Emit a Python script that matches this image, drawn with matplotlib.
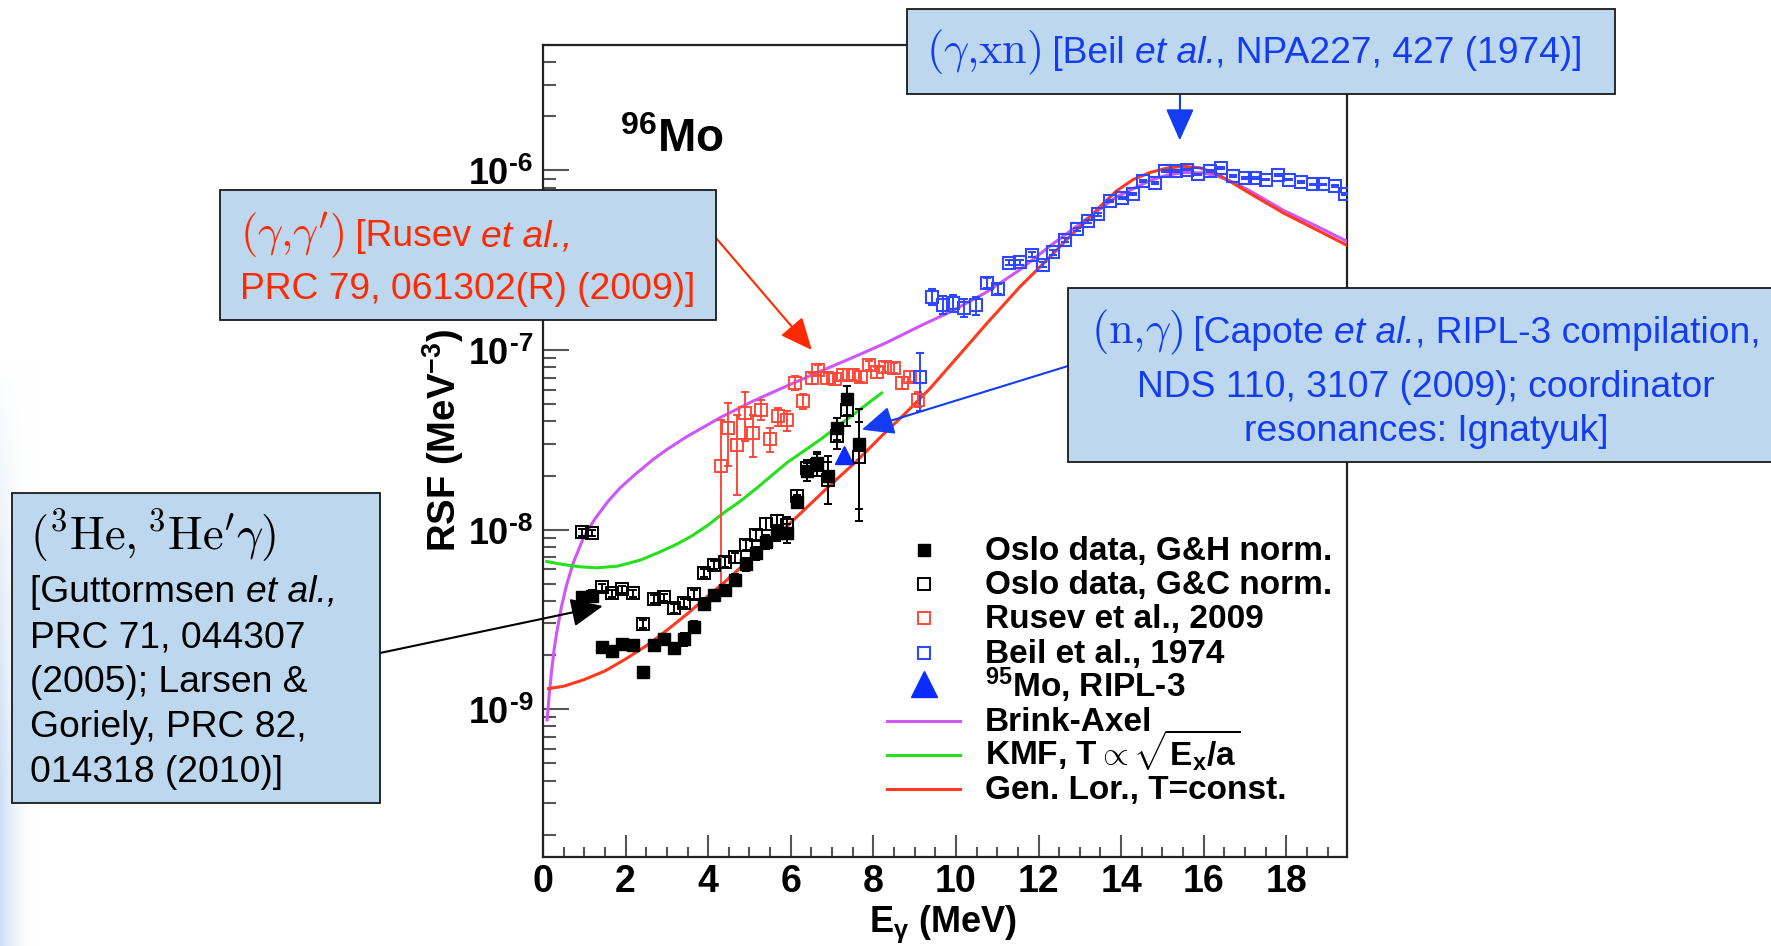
import numpy as np
import matplotlib
matplotlib.use("Agg")
import matplotlib.pyplot as plt
from matplotlib.patches import Rectangle
from matplotlib.lines import Line2D
from matplotlib.ticker import LogLocator, MultipleLocator, NullFormatter

plt.rcParams['font.family'] = ['Liberation Sans', 'DejaVu Sans']
plt.rcParams['font.weight'] = 'bold'
plt.rcParams['mathtext.fontset'] = 'custom'
plt.rcParams['mathtext.rm'] = 'Liberation Sans:bold'
plt.rcParams['mathtext.bf'] = 'Liberation Sans:bold'
plt.rcParams['mathtext.it'] = 'Liberation Sans:italic:bold'
plt.rcParams['mathtext.sf'] = 'Liberation Sans:bold'

# ---------------- data ----------------
# Oslo method (3He,3He'g), two normalisations
E_oslo = [0.94, 1.18, 1.42, 1.67, 1.92, 2.18, 2.43, 2.68, 2.93, 3.17, 3.41, 3.66, 3.90, 4.15,
          4.40, 4.66, 4.91, 5.16, 5.41, 5.66, 5.90, 6.15, 6.39, 6.64, 6.90, 7.12, 7.37, 7.66]
rsf_gh = [4.2e-9, 4.28e-9, 2.21e-9, 2.11e-9, 2.31e-9, 2.28e-9, 1.60e-9, 2.28e-9, 2.45e-9, 2.18e-9,
          2.45e-9, 2.88e-9, 3.86e-9, 4.33e-9, 4.61e-9, 5.25e-9, 6.4e-9, 7.38e-9, 8.57e-9, 9.6e-9,
          9.6e-9, 1.43e-8, 2.11e-8, 2.34e-8, 1.98e-8, 3.67e-8, 5.33e-8, 3.0e-8]
err_gh = [0.3e-9, 0.3e-9, 0.15e-9, 0.15e-9, 0.15e-9, 0.15e-9, 0.1e-9, 0.15e-9, 0.15e-9, 0.15e-9,
          0.2e-9, 0.2e-9, 0.3e-9, 0.3e-9, 0.3e-9, 0.4e-9, 0.5e-9, 0.6e-9, 0.8e-9, 1.0e-9,
          1.2e-9, 1.2e-9, 2.5e-9, 3.5e-9, 6.0e-9, 5.0e-9, 1.0e-8, 1.7e-8]
rsf_gc = [9.66e-9, 9.55e-9, 4.77e-9, 4.41e-9, 4.66e-9, 4.41e-9, 2.98e-9, 4.1e-9, 4.2e-9, 3.65e-9,
          3.92e-9, 4.37e-9, 5.75e-9, 6.35e-9, 6.6e-9, 7.0e-9, 8.2e-9, 9.3e-9, 1.08e-8, 1.11e-8,
          1.06e-8, 1.53e-8, 2.2e-8, 2.3e-8, 1.89e-8, 3.3e-8, 4.65e-8, 2.55e-8]
err_gc = [0.4e-9, 0.4e-9, 0.2e-9, 0.2e-9, 0.2e-9, 0.2e-9, 0.15e-9, 0.2e-9, 0.2e-9, 0.2e-9,
          0.2e-9, 0.25e-9, 0.3e-9, 0.35e-9, 0.4e-9, 0.45e-9, 0.5e-9, 0.6e-9, 0.8e-9, 1.0e-9,
          1.1e-9, 1.3e-9, 2.5e-9, 3.2e-9, 5.0e-9, 5.0e-9, 9.0e-9, 1.44e-8]

# (g,g') Rusev et al. 2009
E_rusev = [4.30, 4.49, 4.69, 4.89, 5.09, 5.27, 5.50, 5.70, 5.90, 6.10, 6.30, 6.51, 6.67, 6.87,
           7.07, 7.27, 7.50, 7.69, 7.90, 8.08, 8.28, 8.50, 8.69, 8.89, 9.09]
rsf_rusev = [2.25e-8, 3.67e-8, 2.96e-8, 4.46e-8, 3.45e-8, 4.65e-8, 3.19e-8, 4.27e-8, 4.05e-8,
             6.56e-8, 5.18e-8, 6.98e-8, 7.78e-8, 6.98e-8, 6.9e-8, 7.3e-8, 7.3e-8, 7.1e-8, 8.2e-8,
             7.5e-8, 8.05e-8, 7.95e-8, 6.56e-8, 7.1e-8, 5.3e-8]
err_rusev = [1.8e-8, 1.4e-8, 1.4e-8, 1.35e-8, 0.9e-8, 0.6e-8, 0.5e-8, 0.5e-8, 0.5e-8, 0.6e-8,
             0.5e-8, 0.5e-8, 0.5e-8, 0.5e-8, 0.5e-8, 0.5e-8, 0.5e-8, 0.5e-8, 0.5e-8, 0.5e-8,
             0.5e-8, 0.5e-8, 0.5e-8, 0.5e-8, 0.5e-8]

# (g,xn) Beil et al. 1974
E_beil = [9.13, 9.41, 9.68, 9.93, 10.20, 10.48, 10.74, 11.03, 11.29, 11.55, 11.83, 12.11, 12.36,
          12.64, 12.92, 13.20, 13.45, 13.73, 14.01, 14.28, 14.54, 14.82, 15.06, 15.34, 15.60,
          15.87, 16.15, 16.43, 16.71, 17.00, 17.24, 17.52, 17.80, 18.07, 18.35, 18.64, 18.89,
          19.18, 19.42]
rsf_beil = [7.07e-8, 1.98e-7, 1.79e-7, 1.83e-7, 1.72e-7, 1.77e-7, 2.37e-7, 2.19e-7, 3.06e-7,
            3.08e-7, 3.4e-7, 2.99e-7, 3.5e-7, 4.1e-7, 4.7e-7, 5.2e-7, 5.69e-7, 6.75e-7, 7.05e-7,
            7.36e-7, 8.73e-7, 8.55e-7, 9.93e-7, 9.93e-7, 1.01e-6, 9.5e-7, 9.9e-7, 1.035e-6,
            9.3e-7, 9.12e-7, 9.12e-7, 8.9e-7, 9.4e-7, 8.9e-7, 8.6e-7, 8.36e-7, 8.36e-7, 8.2e-7,
            7.36e-7]
err_beil = [2.5e-8, 2.0e-8, 2.0e-8, 2.0e-8, 2.0e-8, 2.0e-8, 1.5e-8, 1.5e-8, 1.0e-8, 1.0e-8,
            1.0e-8, 1.0e-8, 1.0e-8, 1.0e-8, 1.0e-8, 1.0e-8, 1.0e-8, 1.0e-8, 1.0e-8, 1.0e-8,
            1.0e-8, 1.0e-8, 1.0e-8, 1.0e-8, 1.0e-8, 1.0e-8, 1.0e-8, 1.0e-8, 1.0e-8, 1.0e-8,
            1.0e-8, 1.0e-8, 1.0e-8, 1.0e-8, 1.0e-8, 1.0e-8, 1.0e-8, 1.0e-8, 1.0e-8]

# 95Mo (n,g) resonance value, RIPL-3
E_ripl = [7.28]
rsf_ripl = [2.6e-8]

# model curves
E_ba = [0.10, 0.15, 0.21, 0.27, 0.33, 0.45, 0.57, 0.73, 0.98, 1.26, 1.58, 1.86, 2.20, 2.67, 3.00,
        3.48, 4.29, 5.09, 5.90, 6.71, 7.51, 8.32, 9.13, 9.93, 10.74, 11.55, 12.28, 13.08, 13.88,
        14.70, 15.10, 15.50, 15.98, 16.31, 16.71, 17.12, 17.93, 18.73, 19.46]
rsf_ba = [8.7e-10, 1.2e-9, 1.65e-9, 2.15e-9, 2.65e-9, 3.75e-9, 4.9e-9, 6.5e-9, 9.0e-9, 1.15e-8,
          1.44e-8, 1.70e-8, 2.0e-8, 2.46e-8, 2.79e-8, 3.29e-8, 4.2e-8, 5.2e-8, 6.3e-8, 7.6e-8,
          9.1e-8, 1.1e-7, 1.36e-7, 1.66e-7, 2.1e-7, 2.8e-7, 3.8e-7, 5.2e-7, 7.1e-7, 8.8e-7,
          9.4e-7, 9.75e-7, 9.7e-7, 9.35e-7, 8.6e-7, 7.7e-7, 6.0e-7, 4.9e-7, 4.04e-7]

E_kmf = [0.09, 0.5, 0.9, 1.3, 1.8, 2.35, 2.8, 3.2, 3.6, 4.0, 4.4, 4.8, 5.2, 5.9, 6.7, 7.5, 8.2]
rsf_kmf = [6.64e-9, 6.38e-9, 6.2e-9, 6.12e-9, 6.25e-9, 6.75e-9, 7.45e-9, 8.2e-9, 9.2e-9, 1.06e-8,
           1.25e-8, 1.45e-8, 1.72e-8, 2.35e-8, 3.15e-8, 4.35e-8, 5.76e-8]

E_glo = [0.13, 0.5, 1.0, 1.5, 2.0, 2.5, 3.0, 3.5, 3.96, 4.4, 4.77, 5.2, 5.58, 6.22, 6.9, 7.59,
         8.16, 8.8, 9.37, 10.05, 10.74, 11.55, 12.28, 12.76, 13.08, 13.49, 13.89, 14.29, 14.70,
         15.10, 15.50, 15.91, 16.31, 16.71, 17.12, 17.93, 18.73, 19.46]
rsf_glo = [1.30e-9, 1.34e-9, 1.46e-9, 1.63e-9, 1.9e-9, 2.25e-9, 2.75e-9, 3.4e-9, 4.2e-9, 5.1e-9,
           6.1e-9, 7.4e-9, 8.9e-9, 1.22e-8, 1.72e-8, 2.4e-8, 3.25e-8, 4.5e-8, 6.1e-8, 9.2e-8,
           1.4e-7, 2.25e-7, 3.3e-7, 4.3e-7, 5.05e-7, 6.3e-7, 7.7e-7, 8.9e-7, 9.75e-7, 1.03e-6,
           1.055e-6, 1.035e-6, 9.6e-7, 8.5e-7, 7.45e-7, 5.8e-7, 4.68e-7, 3.84e-7]

legend_labels = ['Oslo data, G&H norm.', 'Oslo data, G&C norm.', 'Rusev et al., 2009',
                 'Beil et al., 1974', r'$^{95}$Mo, RIPL-3', 'Brink-Axel',
                 r'KMF, T$\propto\sqrt{\mathrm{E}_{\mathrm{x}}/\mathrm{a}}$', 'Gen. Lor., T=const.']

y_decades = [-9, -8, -7, -6]

# ---------------- styling ----------------
C_BA = '#cf56f7'
C_KMF = '#25e01c'
C_GLO = '#ff3a1f'
C_RUSEV = '#ff4a3a'
C_BEIL = '#2f47ff'
C_RIPL = '#0a2cff'
BOX_FC = '#bdd7ee'
TXT_BLUE = '#143cf0'
TXT_RED = '#ff2a00'

W, H = 1771, 946
fig = plt.figure(figsize=(W / 100, H / 100), dpi=100)
fig.patch.set_facecolor('white')
renderer = fig.canvas.get_renderer()


def fx(px):
    return px / W


def fy(py):
    return 1 - py / H


# soft slide-background tint along the lower left edge
bg = fig.add_axes([0, 0, 36 / W, 1], zorder=-10)
gx = np.linspace(0, 1, 36)[None, :]
gt = np.linspace(0, 1, 300)[:, None]          # 0 at top, 1 at bottom
strength = (1 - gx) ** 2 * np.clip((gt - 0.38) / 0.45, 0, 1)
tint = np.array([0.80, 0.87, 0.96])
img = np.ones((300, 36, 3)) * (1 - strength[..., None]) + tint * strength[..., None]
bg.imshow(img, aspect='auto', origin='upper', extent=[0, 1, 0, 1])
bg.axis('off')

ax = fig.add_axes([fx(543), fy(857), (1347 - 543) / W, (857 - 45) / H])
ax.set_yscale('log')
ax.set_xlim(0, 19.47)
ax.set_ylim(1.5e-10, 5e-6)

# model curves
l_ba, = ax.plot(E_ba, rsf_ba, color=C_BA, lw=2.2, zorder=3)
l_kmf, = ax.plot(E_kmf, rsf_kmf, color=C_KMF, lw=2.2, zorder=3)
l_glo, = ax.plot(E_glo, rsf_glo, color=C_GLO, lw=2.2, zorder=3)

# data sets
eb_kw = dict(fmt='s', elinewidth=1.4, capsize=3, capthick=1.4, zorder=4)
h_gh = ax.errorbar(E_oslo, rsf_gh, yerr=err_gh, ms=8, mfc='black', mec='black', ecolor='black',
                   **eb_kw)
h_gc = ax.errorbar(E_oslo, rsf_gc, yerr=err_gc, ms=8, mfc='none', mec='black', mew=1.4,
                   ecolor='black', **eb_kw)
h_ru = ax.errorbar(E_rusev, rsf_rusev, yerr=err_rusev, ms=8.5, mfc='none', mec=C_RUSEV, mew=1.4,
                   ecolor=C_RUSEV, **eb_kw)
h_be = ax.errorbar(E_beil, rsf_beil, yerr=err_beil, ms=8.5, mfc='none', mec=C_BEIL, mew=1.5,
                   ecolor=C_BEIL, **eb_kw)
h_ri, = ax.plot(E_ripl, rsf_ripl, '^', color=C_RIPL, ms=13, zorder=5)

# axes frame and ticks
for s in ax.spines.values():
    s.set_linewidth(1.6)
    s.set_color('#222222')
ax.xaxis.set_major_locator(MultipleLocator(2))
ax.xaxis.set_minor_locator(MultipleLocator(0.5))
ax.yaxis.set_major_locator(LogLocator(base=10, numticks=20))
ax.yaxis.set_minor_locator(LogLocator(base=10, subs=np.arange(2, 10), numticks=20))
ax.yaxis.set_major_formatter(NullFormatter())
ax.yaxis.set_minor_formatter(NullFormatter())
ax.tick_params(which='both', direction='in', top=False, right=False, color='#555555', width=1.5)
ax.tick_params(axis='x', which='major', length=16, labelsize=27, pad=5)
ax.tick_params(axis='x', which='minor', length=7.5)
ax.tick_params(axis='y', which='major', length=18.5)
ax.tick_params(axis='y', which='minor', length=9.5)

# decade labels "10" with a large raised exponent
for k in y_decades:
    yy = ax.transData.transform((0, 10.0 ** k))[1]
    ex = fig.text(fx(533), (yy - 1) / H, f'-{-k}', fontsize=19, fontweight='bold',
                  ha='right', va='baseline')
    w = ex.get_window_extent(renderer).width
    fig.text(fx(533 - w - 1), (yy - 14) / H, '10', fontsize=26, fontweight='bold',
             ha='right', va='baseline')

ax.set_xlabel(r'E$_{\mathrm{γ}}$ (MeV)', fontsize=26, fontweight='bold', va='center')
ax.xaxis.set_label_coords((943 - 543) / 804, (857 - 924) / 812)
ax.set_ylabel(r'RSF (MeV$^{-3}$)', fontsize=27.5, fontweight='bold', va='center')
ax.yaxis.set_label_coords((443 - 543) / 804, (857 - 440) / 812)

ax.text((620 - 543) / 804, (857 - 152) / 812, r'$^{96}$Mo', transform=ax.transAxes,
        fontsize=33, fontweight='bold', va='baseline', ha='left')

# legend: fixed row pitch, handles copy the style of the plotted artists
leg_handles = [(h_gh[0], False), (h_gc[0], False), (h_ru[0], False), (h_be[0], False),
               (h_ri, False), (l_ba, True), (l_kmf, True), (l_glo, True)]
for i, ((artist, is_line), label) in enumerate(zip(leg_handles, legend_labels)):
    yc = 550 + 34.2 * i
    if is_line:
        h = Line2D([fx(887), fx(960)], [fy(yc), fy(yc)])
    else:
        h = Line2D([fx(923.5)], [fy(yc)])
    h.update_from(artist)
    h.set_transform(fig.transFigure)
    h.set_clip_on(False)
    if artist is h_ri:
        h.set_markersize(19)
        h.set_ydata([fy(yc - 3)])
    fig.add_artist(h)
    fig.text(fx(985), fy(yc + 10), label, fontsize=24, fontweight='bold', va='baseline',
             ha='left')

# ---------------- reference boxes ----------------
SANS = dict(family=['Liberation Sans', 'DejaVu Sans'], weight='normal', size=26.8)
SANS_IT = dict(family=['Liberation Sans', 'DejaVu Sans'], weight='normal', style='italic',
               size=26.8)
SERIF = dict(size=32, math_fontfamily='cm', weight='normal')
SERIF_BIG = dict(size=33.5, math_fontfamily='cm', weight='normal')


def box(x0, y0, x1, y1):
    fig.add_artist(Rectangle((fx(x0), fy(y1)), (x1 - x0) / W, (y1 - y0) / H,
                             transform=fig.transFigure, facecolor=BOX_FC,
                             edgecolor='#1a1a1a', lw=1.3, zorder=5))


def rich(x_px, y_px, parts, color, ha='left'):
    texts = [fig.text(0, fy(y_px), s, va='baseline', ha='left', color=color, zorder=6,
                      fontdict=kw) for s, kw in parts]
    widths = [t.get_window_extent(renderer).width for t in texts]
    x = x_px - (sum(widths) / 2 if ha == 'center' else 0)
    for t, w in zip(texts, widths):
        t.set_x(fx(x))
        x += w


def arrow(xy, start_px, color):
    ax.annotate('', xy=xy, xycoords='data', xytext=(fx(start_px[0]), fy(start_px[1])),
                textcoords='figure fraction', annotation_clip=False,
                arrowprops=dict(arrowstyle='-|>,head_length=0.9,head_width=0.4', color=color,
                                lw=1.5, mutation_scale=22, shrinkA=0, shrinkB=0), zorder=7)


# (g,xn)
box(907, 9, 1615, 94)
rich(926, 63, [(r'$(\gamma{,}\mathrm{xn})$', SERIF), (' [Beil ', SANS), ('et al.', SANS_IT),
               (', NPA227, 427 (1974)]', SANS)], TXT_BLUE)
arrow((15.42, 1.47e-6), (1180, 94), TXT_BLUE)

# (g,g')
box(220, 190, 716, 320)
rich(240, 246, [(r"$(\gamma{,}\gamma')$", SERIF), (' [Rusev ', SANS), ('et al.,', SANS_IT)],
     TXT_RED)
rich(240, 299, [('PRC 79, 061302(R) (2009)]', SANS)], TXT_RED)
arrow((6.51, 1.0e-7), (716, 238), TXT_RED)

# (n,g)
box(1068, 288, 1790, 462)
rich(1426, 343, [(r'$(\mathrm{n}{,}\gamma)$', SERIF), (' [Capote ', SANS), ('et al.', SANS_IT),
                 (', RIPL-3 compilation,', SANS)], TXT_BLUE, ha='center')
rich(1426, 397, [('NDS 110, 3107 (2009); coordinator', SANS)], TXT_BLUE, ha='center')
rich(1426, 441, [('resonances: Ignatyuk]', SANS)], TXT_BLUE, ha='center')
arrow((7.72, 3.6e-8), (1068, 366), TXT_BLUE)

# (3He,3He'g)
box(12, 493, 380, 803)
rich(30, 550, [(r"$({}^{3}\mathrm{He},{}^{3}\mathrm{He}'\gamma)$", SERIF_BIG)], 'black')
rich(30, 602, [('[Guttormsen ', SANS), ('et al.,', SANS_IT)], 'black')
rich(30, 647, [('PRC 71, 044307', SANS)], 'black')
rich(30, 692, [('(2005); Larsen &', SANS)], 'black')
rich(30, 737, [('Goriely, PRC 82,', SANS)], 'black')
rich(30, 782, [('014318 (2010)]', SANS)], 'black')
arrow((1.45, 3.75e-9), (380, 653), 'black')

fig.savefig('out.png', dpi=100)
